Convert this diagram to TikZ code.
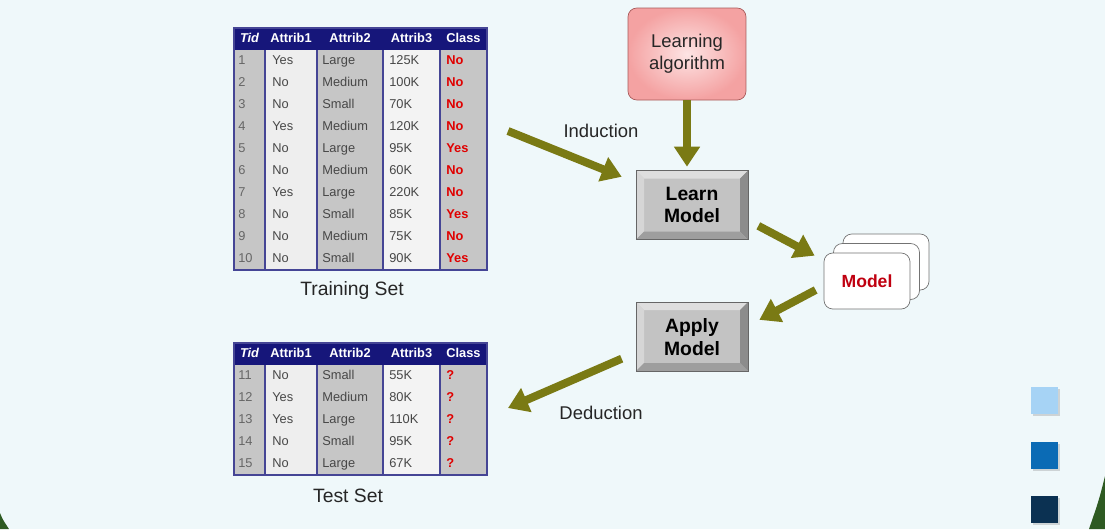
\documentclass[tikz,border=0pt]{standalone}
\usepackage{fontspec}
\setmainfont{Liberation Sans}
\usepackage{tikz}
\usetikzlibrary{positioning,arrows.meta,shadows,calc}
\definecolor{slide}{HTML}{EFF8FA}
\definecolor{navy}{HTML}{16167A}
\definecolor{colgray}{HTML}{C6C6C6}
\definecolor{collight}{HTML}{EEEEEE}
\definecolor{classred}{HTML}{E00000}
\definecolor{modelred}{HTML}{C00010}
\definecolor{olivearr}{HTML}{7A7A14}
\definecolor{btnface}{HTML}{C3C3C3}
\definecolor{algoin}{HTML}{FDE4E4}
\definecolor{algoout}{HTML}{F4A2A2}
\definecolor{algoedge}{HTML}{A85A5A}
\definecolor{sqa}{HTML}{A6D3F5}
\definecolor{sqb}{HTML}{0B6BB5}
\definecolor{sqc}{HTML}{0B3152}
\definecolor{edgegreen}{HTML}{2E5A22}
\tikzset{
  cell/.style={anchor=west,font=\fontsize{7.3}{8}\selectfont,text=black!72,inner sep=0pt,
               text height=5.4pt,text depth=1.6pt},
  head/.style={font=\bfseries\fontsize{7.3}{8}\selectfont,text=white,inner sep=0pt,
               text height=5.4pt,text depth=1.6pt},
  lbl/.style={font=\fontsize{10.5}{12}\selectfont,text=black!85},
  algo/.style={draw=algoedge,rounded corners=5pt,inner color=algoin,outer color=algoout,
               minimum width=2.36cm,minimum height=1.84cm,align=center,
               font=\fontsize{10.5}{12.5}\selectfont,text=black!85},
  btn/.style={draw=black!60,fill=btnface,minimum width=2.24cm,minimum height=1.38cm,
              align=center,inner sep=0pt,font=\bfseries\fontsize{11}{13}\selectfont,
              path picture={
                \coordinate (nw) at (path picture bounding box.north west);
                \coordinate (ne) at (path picture bounding box.north east);
                \coordinate (sw) at (path picture bounding box.south west);
                \coordinate (se) at (path picture bounding box.south east);
                \fill[black!13] (nw) -- (ne) -- ([shift={(-0.16cm,-0.16cm)}]ne) -- ([shift={(0.16cm,-0.16cm)}]nw) -- cycle;
                \fill[black!16] (nw) -- ([shift={(0.16cm,-0.16cm)}]nw) -- ([shift={(0.16cm,0.16cm)}]sw) -- (sw) -- cycle;
                \fill[black!45] (ne) -- (se) -- ([shift={(-0.16cm,0.16cm)}]se) -- ([shift={(-0.16cm,-0.16cm)}]ne) -- cycle;
                \fill[black!38] (sw) -- (se) -- ([shift={(-0.16cm,0.16cm)}]se) -- ([shift={(0.16cm,0.16cm)}]sw) -- cycle;
              }},
  card/.style={draw=black!55,fill=white,rounded corners=5pt,minimum width=1.72cm,minimum height=1.12cm,
               font=\bfseries\fontsize{10}{12}\selectfont,text=modelred},
  sqr/.style={minimum size=0.54cm,inner sep=0pt,drop shadow={opacity=0.3,shadow xshift=0.05cm,shadow yshift=-0.05cm}},
  oarr/.style={-{Triangle[length=0.4cm,width=0.5cm]},draw=olivearr,line width=0.16cm}
}

\begin{document}
\begin{tikzpicture}[x=0.02cm,y=-0.02cm]
  \fill[slide] (0,0) rectangle (1105,529);
  \useasboundingbox (0,0) rectangle (1105,529);
  \fill[edgegreen] (0,513) .. controls (3,520) .. (9,529) -- (0,529) -- cycle;
  \fill[edgegreen] (1105,476) .. controls (1099,500) .. (1089,529) -- (1105,529) -- cycle;

  % #1 top, #2 rows, #3 data
  \def\tabl#1#2#3{
    \fill[colgray] (234,#1) rectangle (265,#1+22+22*#2);
    \fill[collight] (265,#1) rectangle (317,#1+22+22*#2);
    \fill[colgray] (317,#1) rectangle (383,#1+22+22*#2);
    \fill[collight!70!white] (383,#1) rectangle (440,#1+22+22*#2);
    \fill[colgray] (440,#1) rectangle (487,#1+22+22*#2);
    \fill[navy] (234,#1) rectangle (487,#1+22);
    \foreach \x in {265,317,383,440}{\draw[navy!80,line width=0.8pt] (\x,#1+22) -- (\x,#1+22+22*#2);}
    \draw[navy!80,line width=0.6pt] (234,#1) rectangle (487,#1+22+22*#2);
    \node[head,font=\bfseries\itshape\fontsize{7.3}{8}\selectfont] at (249.5,#1+11) {Tid};
    \node[head] at (291,#1+11) {Attrib1};
    \node[head] at (350,#1+11) {Attrib2};
    \node[head] at (411.5,#1+11) {Attrib3};
    \node[head] at (463.5,#1+11) {Class};
    \foreach \t/\a/\b/\c/\k [count=\i] in {#3}{
      \node[cell,text=black!60] at (238,#1+22*\i+11) {\t};
      \node[cell] at (272,#1+22*\i+11) {\a};
      \node[cell] at (322,#1+22*\i+11) {\b};
      \node[cell] at (389,#1+22*\i+11) {\c};
      \node[cell,text=classred,font=\bfseries\fontsize{7.3}{8}\selectfont] at (446,#1+22*\i+11) {\k};
    }
  }
  \tabl{28}{10}{1/Yes/Large/125K/No,2/No/Medium/100K/No,3/No/Small/70K/No,4/Yes/Medium/120K/No,
    5/No/Large/95K/Yes,6/No/Medium/60K/No,7/Yes/Large/220K/No,8/No/Small/85K/Yes,9/No/Medium/75K/No,10/No/Small/90K/Yes}
  \tabl{343}{5}{11/No/Small/55K/?,12/Yes/Medium/80K/?,13/Yes/Large/110K/?,14/No/Small/95K/?,15/No/Large/67K/?}
  \node[lbl,font=\fontsize{11}{13}\selectfont] (trainlbl) at (352,290) {Training Set};
  \node[lbl,font=\fontsize{11}{13}\selectfont] (testlbl) at (348,496) {Test Set};

  \node[algo] (algo) at (687,54) {Learning\\algorithm};
  \node[btn] (learn) at (692,205) {Learn\\Model};
  \node[btn,below=1.24cm of learn] (apply) {Apply\\Model};
  \node[card,double copy shadow={shadow xshift=0.19cm,shadow yshift=0.19cm,draw=black!55,fill=white}] (model) at (867,281) {Model};

  \node[lbl] (induct) at (601,131) {Induction};
  \node[lbl] (deduct) at (601,413) {Deduction};
  \coordinate (ind) at (508,131);
  \coordinate (ded) at (508,408);

  \draw[oarr,shorten >=0.3cm] (ind) -- (learn);
  \draw[oarr,shorten >=2pt] (algo.south) -- (algo.south |- learn.north);
  \draw[oarr] ([shift={(10,-14)}]learn.south east) -- ([shift={(-9,3)}]model.north west);
  \draw[oarr] ([shift={(-8,9)}]model.west) -- ([shift={(11,18)}]apply.north east);
  \draw[oarr] ([shift={(-14,22)}]apply.west) -- (ded);

  \node[sqr,fill=sqa] (sq1) at (1044,400) {};
  \node[sqr,fill=sqb] (sq2) at (1044,455) {};
  \node[sqr,fill=sqc] (sq3) at (1044,509) {};
\end{tikzpicture}
\end{document}
